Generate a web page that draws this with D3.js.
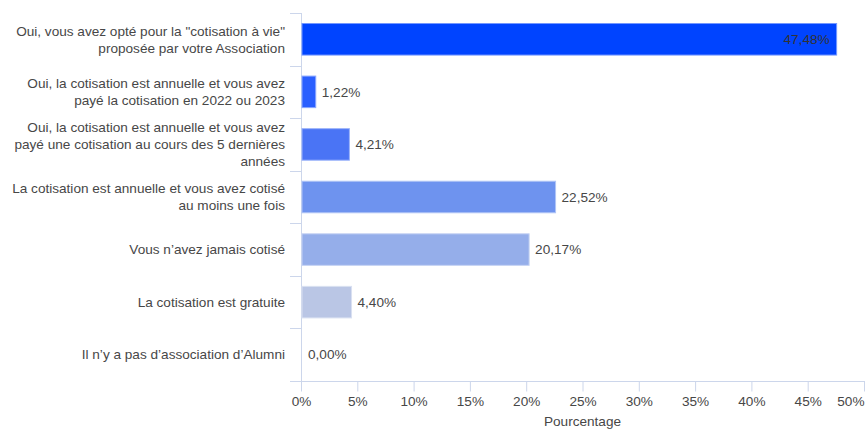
<!DOCTYPE html>
<html>
<head>
<meta charset="utf-8">
<script src="https://cdn.jsdelivr.net/npm/d3@7"></script>
<style>
  html, body { margin: 0; padding: 0; background: #fff; }
  svg { display: block; font-family: "Liberation Sans", Arial, sans-serif; }
</style>
</head>
<body>
<svg id="chart" width="865" height="430"></svg>
<script>
const categories = [
  "Oui, vous avez opté pour la \"cotisation à vie\"\nproposée par votre Association",
  "Oui, la cotisation est annuelle et vous avez\npayé la cotisation en 2022 ou 2023",
  "Oui, la cotisation est annuelle et vous avez\npayé une cotisation au cours des 5 dernières\nannées",
  "La cotisation est annuelle et vous avez cotisé\nau moins une fois",
  "Vous n’avez jamais cotisé",
  "La cotisation est gratuite",
  "Il n’y a pas d’association d’Alumni"
];
const values = [47.48, 1.22, 4.21, 22.52, 20.17, 4.40, 0.00];
const barColors = ["#0044ff", "#2a5fff", "#4a74f5", "#6e93ef", "#95aeea", "#bac6e5", "#d0d8ee"];
const xTickValues = [0, 5, 10, 15, 20, 25, 30, 35, 40, 45, 50];
const xTitle = "Pourcentage";

(function () {
const svg = d3.select("#chart");
const W = 865, H = 430;
const mLeft = 301, mRight = 864, mTop = 13, mBottom = 381;
const textColor = "#474747";
const axisColor = "#ccd6eb";
const fs = 13.6;

const locale = d3.formatLocale({decimal: ",", thousands: " ", grouping: [3], currency: ["", " €"]});
const fmt = locale.format(".2f");

const x = d3.scaleLinear().domain([0, 50]).range([mLeft, mRight]);
const y = d3.scaleBand().domain(categories).range([mTop, mBottom]).paddingInner(0.4).paddingOuter(0.2);

// Y axis line
svg.append("line")
  .attr("x1", mLeft + 0.5).attr("x2", mLeft + 0.5)
  .attr("y1", mTop).attr("y2", mBottom + 10)
  .attr("stroke", axisColor).attr("stroke-width", 1);

// Y band ticks
const step = y.step();
d3.range(categories.length + 1).forEach(i => {
  const yy = Math.round(mTop + i * step) + 0.5;
  svg.append("line")
    .attr("x1", mLeft - 11).attr("x2", mLeft)
    .attr("y1", yy).attr("y2", yy)
    .attr("stroke", axisColor).attr("stroke-width", 1);
});

// X axis
const xAxis = d3.axisBottom(x)
  .tickValues(xTickValues)
  .tickSize(10)
  .tickPadding(5)
  .tickFormat(d => d + "%");
const gx = svg.append("g")
  .attr("transform", `translate(0,${mBottom + 0.5})`)
  .call(xAxis);
gx.select(".domain").remove();
gx.selectAll(".tick line").attr("stroke", axisColor);
gx.selectAll(".tick text")
  .attr("fill", textColor)
  .attr("font-size", fs)
  .attr("font-family", "Liberation Sans, Arial, sans-serif");
gx.selectAll(".tick").filter(d => d === 50).select("text")
  .attr("text-anchor", "end").attr("x", W - 1 - x(50));
svg.append("line")
  .attr("x1", mLeft - 11).attr("x2", W)
  .attr("y1", mBottom + 0.5).attr("y2", mBottom + 0.5)
  .attr("stroke", axisColor).attr("stroke-width", 1);

// Axis title
svg.append("text")
  .attr("x", (mLeft + mRight) / 2).attr("y", 426)
  .attr("text-anchor", "middle")
  .attr("fill", textColor).attr("font-size", fs)
  .text(xTitle);

// Category labels
categories.forEach(c => {
  const lines = c.split("\n");
  const cy = y(c) + y.bandwidth() / 2;
  const lh = 17;
  const t = svg.append("text")
    .attr("text-anchor", "end")
    .attr("fill", textColor).attr("font-size", fs);
  lines.forEach((ln, i) => {
    t.append("tspan")
      .attr("x", 285)
      .attr("y", cy + (i - (lines.length - 1) / 2) * lh)
      .attr("dy", "0.35em")
      .text(ln);
  });
});

// Bars
categories.forEach((c, i) => {
  const v = values[i];
  if (v > 0) {
    const fill = barColors[i];
    svg.append("rect")
      .attr("x", x(0) + 1).attr("y", y(c))
      .attr("width", x(v) - x(0)).attr("height", y.bandwidth())
      .attr("fill", fill)
      .attr("stroke", d3.interpolateRgb(fill, "#ffffff")(0.45))
      .attr("stroke-width", 1);
  }
  const inside = v > 40;
  svg.append("text")
    .attr("x", inside ? x(v) - 6 : x(v) + 7)
    .attr("y", y(c) + y.bandwidth() / 2)
    .attr("dy", "0.35em")
    .attr("text-anchor", inside ? "end" : "start")
    .attr("fill", inside ? "#333" : textColor)
    .attr("font-size", fs)
    .text(fmt(v) + "%");
});
})();
</script>
</body>
</html>
